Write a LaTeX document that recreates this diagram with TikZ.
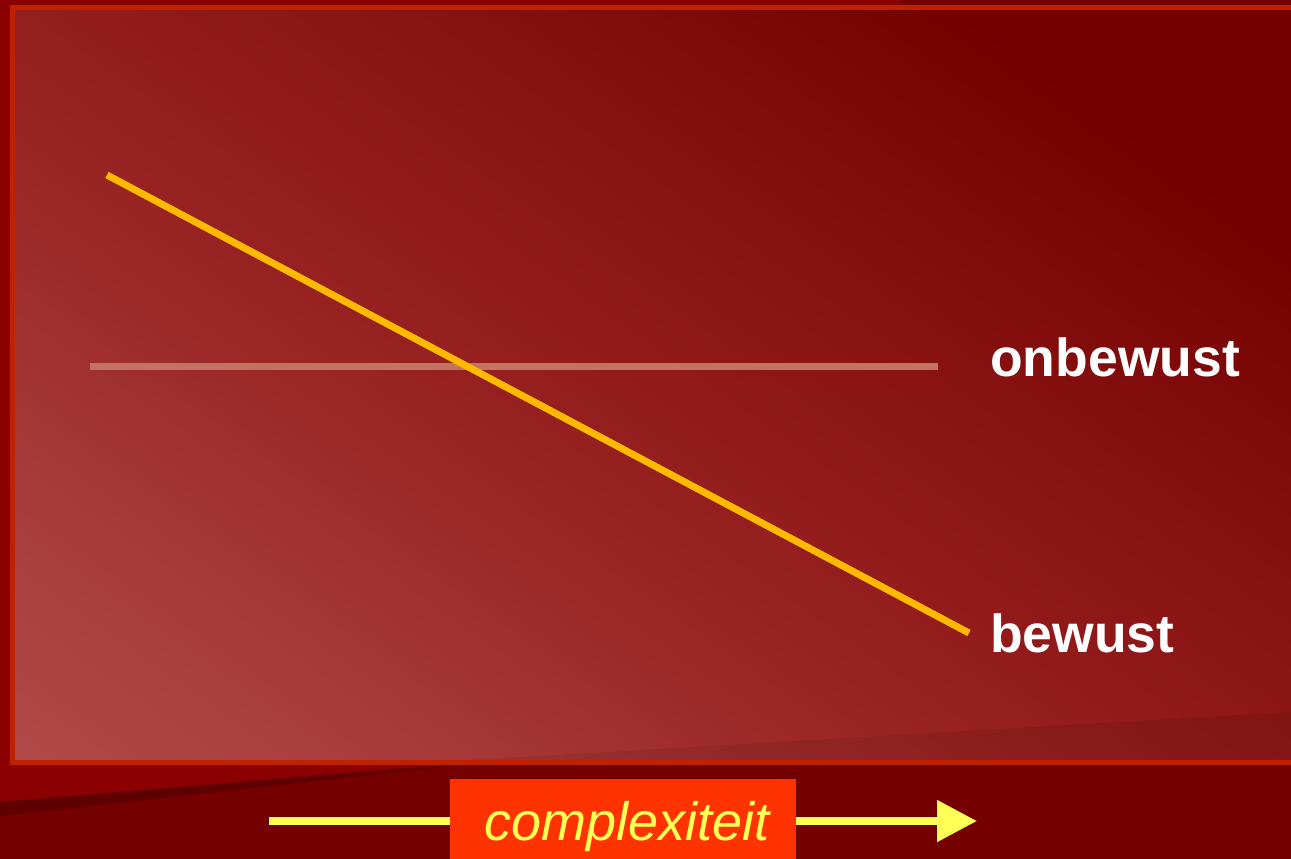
\documentclass[tikz,border=0pt]{standalone}
\usepackage{fontspec}
\setmainfont{Liberation Sans}
\usetikzlibrary{arrows.meta}
\definecolor{bgdark}{HTML}{740000}
\definecolor{bglight}{HTML}{8B0000}
\definecolor{bgband}{HTML}{5E0000}
\definecolor{frame}{HTML}{BE2200}
\definecolor{gradA}{HTML}{B04949}
\definecolor{gradB}{HTML}{A83C3C}
\definecolor{gradC}{HTML}{9C2828}
\definecolor{gradD}{HTML}{921A1A}
\definecolor{gradF}{HTML}{861010}
\definecolor{gradE}{HTML}{740000}
\definecolor{paleline}{HTML}{C27362}
\definecolor{goldline}{HTML}{FFBA00}
\definecolor{arrowyellow}{HTML}{FFFF55}
\definecolor{boxorange}{HTML}{FF3300}
\pgfdeclareverticalshading{panelshade}{100bp}{color(0bp)=(gradA); color(25bp)=(gradA); color(33bp)=(gradB); color(42bp)=(gradC); color(50bp)=(gradD); color(58bp)=(gradF); color(68bp)=(gradE); color(100bp)=(gradE)}
\tikzset{
  label/.style={text=white, font=\fontsize{53.5}{60}\selectfont\bfseries, inner sep=0pt, anchor=base west},
  axisbox/.style={fill=boxorange, text=arrowyellow, font=\fontsize{54}{60}\selectfont\itshape,
     minimum width=346pt, minimum height=95pt, inner sep=0pt, text height=39pt, text depth=11pt},
  trend/.style={goldline, line width=7pt},
  level/.style={paleline, line width=7pt},
  axisarrow/.style={arrowyellow, line width=8pt, -{Triangle[length=40pt,width=40pt]}}
}
\begin{document}
\begin{tikzpicture}[x=1pt,y=-1pt]
\useasboundingbox (0,0) rectangle (1291,859);
% background
\fill[bgdark] (0,0) rectangle (1291,859);
\fill[bglight] (0,0) -- (900,0) -- (1291,712) -- (469,762) -- (0,802) -- cycle;
\fill[bgband] (0,802) -- (469,764) -- (0,816) -- cycle;
% framed panel
\begin{scope}
  \clip (15,10) rectangle (1300,760);
  \shade[shading=panelshade, shading angle=-35] (-20,-288) rectangle (1326,1058);
\end{scope}
\fill[black, opacity=0.07] (469,760) -- (1291,712) -- (1291,760) -- cycle;
\draw[frame, line width=5pt] (1310,7.5) -- (12.5,7.5) -- (12.5,762.5) -- (1310,762.5);
% lines
\coordinate (hstart) at (90,366.5);
\coordinate (hend) at (938,366.5);
\coordinate (dstart) at (107,175);
\coordinate (dend) at (969,633);
\draw[level] (hstart) -- (hend);
\draw[trend] (dstart) -- (dend);
% labels
\node[label] (onbewust) at (990,376) {onbewust};
\node[label] (bewust) at (990,652) {bewust};
% axis
\coordinate (astart) at (269,821);
\coordinate (aend) at (977,821);
\draw[axisarrow] (astart) -- (aend);
\node[axisbox] (complexiteit) at (623,826.5) {\hspace*{8pt}complexiteit};
\end{tikzpicture}
\end{document}
